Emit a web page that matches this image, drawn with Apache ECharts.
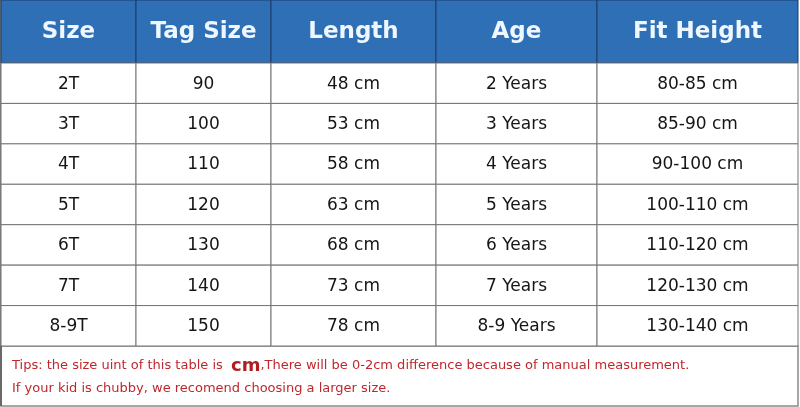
<!DOCTYPE html>
<html>
<head>
<meta charset="utf-8">
<script src="https://cdn.jsdelivr.net/npm/echarts@6/dist/echarts.min.js"></script>
<style>
  html, body { margin: 0; padding: 0; background: #fff; }
  #chart { width: 800px; height: 407px; }
</style>
</head>
<body>
<div id="chart"></div>
<script>
// table content
const headers = ["Size", "Tag Size", "Length", "Age", "Fit Height"];
const sizes = ["2T", "3T", "4T", "5T", "6T", "7T", "8-9T"];
const tag_sizes = [90, 100, 110, 120, 130, 140, 150];
const lengths_cm = [48, 53, 58, 63, 68, 73, 78];
const ages = ["2 Years", "3 Years", "4 Years", "5 Years", "6 Years", "7 Years", "8-9 Years"];
const fit_heights = ["80-85 cm", "85-90 cm", "90-100 cm", "100-110 cm", "110-120 cm", "120-130 cm", "130-140 cm"];
const tip_before = "Tips: the size uint of this table is  ";
const tip_unit = "cm";
const tip_after = ",There will be 0-2cm difference because of manual measurement.";
const tip_line2 = "If your kid is chubby, we recomend choosing a larger size.";

// layout (relative column widths)
const col_widths = [135, 135, 165, 161, 201];
const col_edges = col_widths.reduce((acc, w) => { acc.push(acc[acc.length - 1] + w); return acc; }, [0]);
const total_w = col_edges[col_edges.length - 1];

const FONT = "'DejaVu Sans', sans-serif";

const columns = [
    sizes,
    tag_sizes.map(String),
    lengths_cm.map((v) => v + " cm"),
    ages,
    fit_heights,
];

const header_cells = headers.map((h, c) => ({ value: [c, 0], label: h }));
const body_cells = [];
columns.forEach((col, c) => col.forEach((txt, r) => body_cells.push({ value: [c, r], label: txt })));

function cell_renderer(is_header) {
    return function (params, api) {
        const c = api.value(0);
        const r = api.value(1);
        const left = api.coord([col_edges[c], r]);
        const right = api.coord([col_edges[c + 1], r]);
        const band = api.size([0, 1])[1];
        const y0 = left[1] - band / 2;
        const item = (is_header ? header_cells : body_cells)[params.dataIndex];
        return {
            type: "group",
            children: [
                {
                    type: "rect",
                    shape: { x: left[0], y: y0, width: right[0] - left[0], height: band },
                    style: is_header
                        ? { fill: "#2e6fb6", stroke: "#1c3d6a", lineWidth: 1 }
                        : { fill: "#ffffff", stroke: "#747474", lineWidth: 1 },
                },
                {
                    type: "text",
                    style: {
                        x: (left[0] + right[0]) / 2,
                        y: left[1] + 1,
                        text: item.label,
                        align: "center",
                        verticalAlign: "middle",
                        fill: is_header ? "#eef6ff" : "#151515",
                        font: is_header ? "bold 23px " + FONT : "17px " + FONT,
                    },
                },
            ],
        };
    };
}

const chart = echarts.init(document.getElementById("chart"), null, { renderer: "canvas" });

chart.setOption({
    animation: false,
    backgroundColor: "#ffffff",
    grid: [
        { left: 1, top: 0, width: 797, height: 63 },
        { left: 1, top: 63, width: 797, height: 283 },
    ],
    xAxis: [
        { gridIndex: 0, type: "value", min: 0, max: total_w, show: false },
        { gridIndex: 1, type: "value", min: 0, max: total_w, show: false },
    ],
    yAxis: [
        { gridIndex: 0, type: "category", data: ["header"], show: false },
        { gridIndex: 1, type: "category", data: sizes, inverse: true, show: false },
    ],
    graphic: [
        {
            type: "rect",
            shape: { x: 1, y: 346, width: 797, height: 60 },
            style: { fill: "#ffffff", stroke: "#8a8a8a", lineWidth: 1.5 },
        },
        {
            type: "text",
            left: 12,
            top: 357,
            style: {
                text: "{a|" + tip_before + "}{b|" + tip_unit + "}{a|" + tip_after + "}",
                rich: {
                    a: { fill: "#c0272d", font: "13px " + FONT },
                    b: { fill: "#b01e24", font: "bold 18px " + FONT },
                },
            },
        },
        {
            type: "text",
            left: 12,
            top: 382,
            style: { text: tip_line2, fill: "#c0272d", font: "13px " + FONT },
        },
        {
            type: "line",
            shape: { x1: 1, y1: 0, x2: 1, y2: 406 },
            style: { stroke: "#555", lineWidth: 1.5 },
        },
    ],
    series: [
        {
            type: "custom",
            xAxisIndex: 0,
            yAxisIndex: 0,
            renderItem: cell_renderer(true),
            data: header_cells,
        },
        {
            type: "custom",
            xAxisIndex: 1,
            yAxisIndex: 1,
            renderItem: cell_renderer(false),
            data: body_cells,
        },
    ],
});
</script>
</body>
</html>
